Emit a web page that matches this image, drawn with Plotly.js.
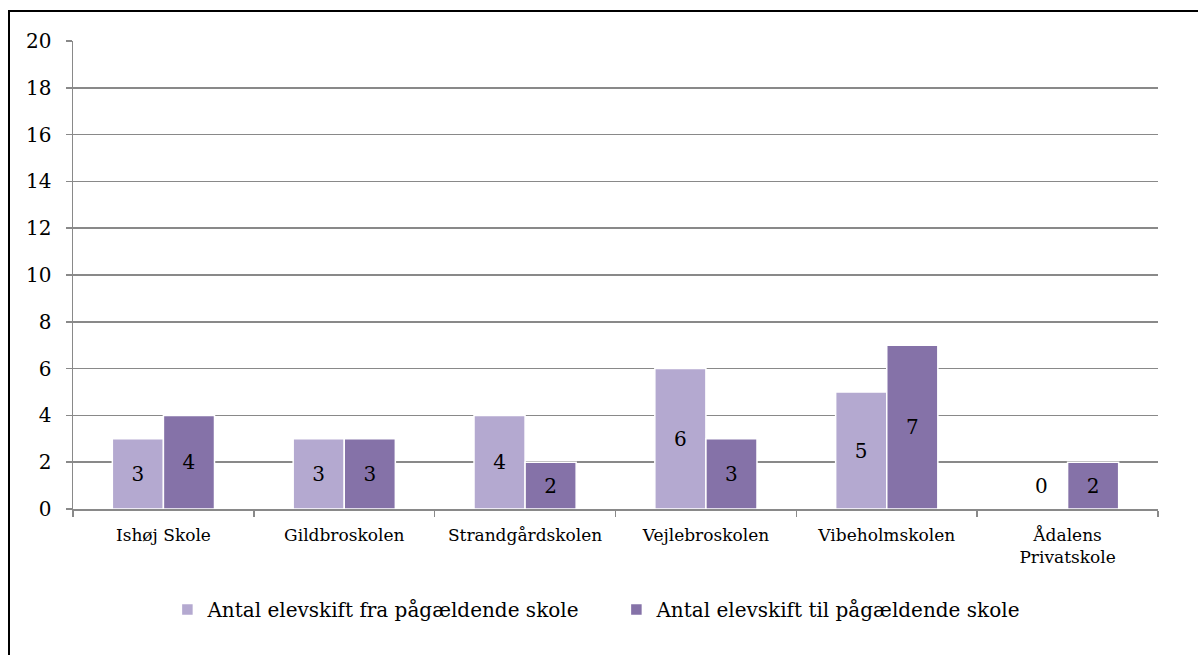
<!DOCTYPE html>
<html>
<head>
<meta charset="utf-8">
<script src="https://cdn.plot.ly/plotly-3.0.1.min.js"></script>
<style>
html,body{margin:0;padding:0;background:#fff;width:1198px;height:655px;overflow:hidden;}
#frame{position:absolute;left:8px;top:10px;width:1200px;height:700px;border:2px solid #000;box-sizing:border-box;}
#chart{position:absolute;left:0;top:0;width:1198px;height:655px;}
</style>
</head>
<body>
<div id="frame"></div>
<div id="chart"></div>
<script>
const categories = ["Ishøj Skole", "Gildbroskolen", "Strandgårdskolen", "Vejlebroskolen", "Vibeholmskolen", "Ådalens<br>Privatskole"];
const seriesNames = ["Antal elevskift fra pågældende skole", "Antal elevskift til pågældende skole"];
const fraValues = [3, 3, 4, 6, 5, 0];
const tilValues = [4, 3, 2, 3, 7, 2];
const yTicks = [0, 2, 4, 6, 8, 10, 12, 14, 16, 18, 20];

const FONT = "'DejaVu Serif', serif";
const colors = ["#B4A9D0", "#8572A8"];

function barTrace(name, vals, color) {
  return {
    type: "bar",
    name: name,
    x: categories,
    y: vals,
    text: vals.map(v => v === 0 ? "" : String(v)),
    textposition: "inside",
    insidetextanchor: "middle",
    textangle: 0,
    textfont: {family: FONT, size: 20, color: "#000"},
    marker: {color: color, line: {color: "#fff", width: 1.5}},
    hoverinfo: "x+y"
  };
}

const data = [
  barTrace(seriesNames[0], fraValues, colors[0]),
  barTrace(seriesNames[1], tilValues, colors[1])
];

// labels for zero-valued bars (drawn beside the companion bar)
const annotations = [];
fraValues.forEach((v, i) => {
  if (v === 0) {
    annotations.push({x: categories[i], y: tilValues[i] / 2, text: String(v), showarrow: false,
      xshift: -26, font: {family: FONT, size: 20, color: "#000"}});
  }
});

const layout = {
  width: 1198, height: 655,
  margin: {l: 73, r: 40, t: 41, b: 146},
  paper_bgcolor: "rgba(0,0,0,0)",
  plot_bgcolor: "#fff",
  barmode: "group",
  bargap: 0.435,
  bargroupgap: 0,
  showlegend: true,
  legend: {orientation: "h", x: 0.087, xanchor: "left", y: -0.215, yanchor: "middle",
    font: {family: FONT, size: 20, color: "#000"}, itemwidth: 30, traceorder: "normal",
    entrywidth: 404, entrywidthmode: "pixels"},
  font: {family: FONT, color: "#000"},
  xaxis: {
    type: "category",
    showline: true, linecolor: "#898989", linewidth: 1.5,
    ticks: "outside", tickson: "boundaries", ticklen: 6, tickcolor: "#898989", tickwidth: 1.5,
    tickfont: {family: FONT, size: 17, color: "#000"},
    ticklabelstandoff: 10,
    showgrid: false, zeroline: false
  },
  yaxis: {
    range: [0, 20], tickvals: yTicks, ticktext: yTicks.map(String),
    showline: true, linecolor: "#898989", linewidth: 1.5,
    ticks: "outside", ticklen: 6, tickcolor: "#898989", tickwidth: 1.5,
    showgrid: true, gridcolor: "#898989", gridwidth: 1.5,
    zeroline: false,
    tickfont: {family: FONT, size: 20, color: "#000"},
    ticklabelstandoff: 10
  },
  annotations: annotations
};

Plotly.newPlot("chart", data, layout, {displayModeBar: false, staticPlot: true});
</script>
</body>
</html>
